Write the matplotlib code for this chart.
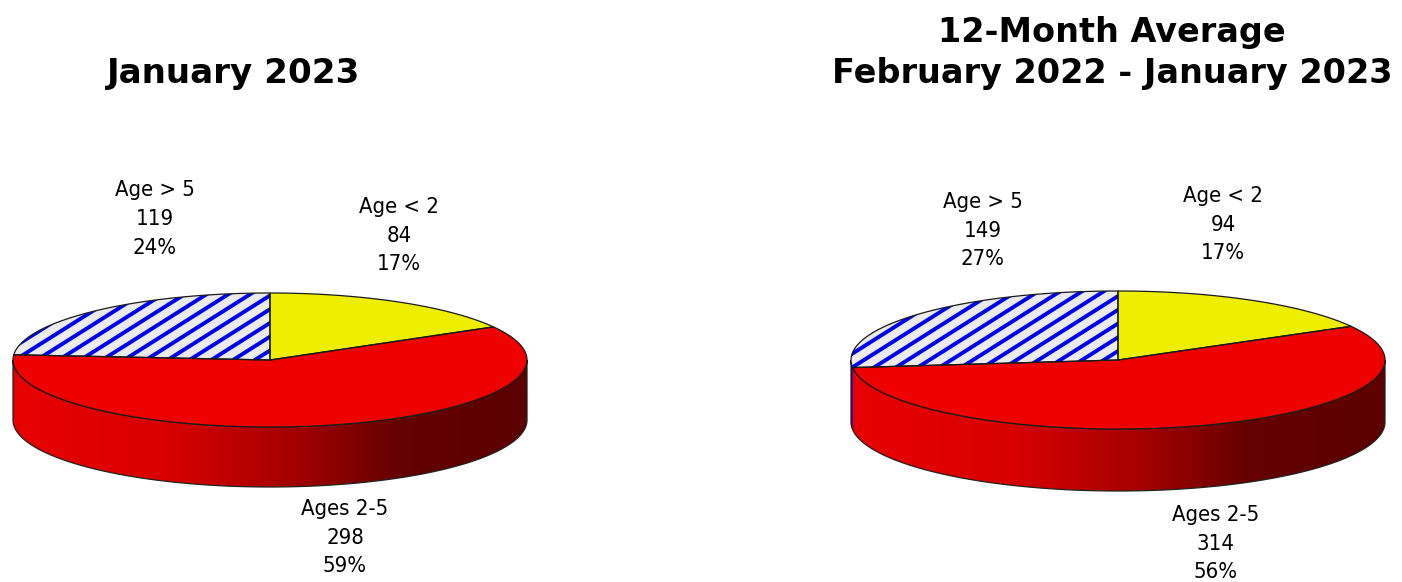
import numpy as np
import matplotlib
matplotlib.use("Agg")
import matplotlib.pyplot as plt
from matplotlib.patches import Polygon
from matplotlib.colors import LinearSegmentedColormap

categories = ["Age < 2", "Ages 2-5", "Age > 5"]
jan_values = [84, 298, 119]
jan_percents = ["17%", "59%", "24%"]
avg_values = [94, 314, 149]
avg_percents = ["17%", "56%", "27%"]
title_left = ["January 2023"]
title_right = ["12-Month Average", "February 2022 - January 2023"]

YELLOW, RED, STRIPE, STRIPE_BG = "#eeee00", "#ee0000", "#0000ee", "#ebebeb"
cmap = LinearSegmentedColormap.from_list(
    "side", [(0, "#e80000"), (0.3, "#d80000"), (0.56, "#a00000"), (0.75, "#640000"), (1, "#5c0000")])

fig = plt.figure(figsize=(14.02, 5.82), dpi=100)
ax = fig.add_axes([0, 0, 1, 1])
ax.set_xlim(0, 1402)
ax.set_ylim(582, 0)
ax.axis("off")


def rim(cx, cy, rx, ry, a0, a1, n=300):
    """Points on the ellipse; angles measured clockwise from north, degrees."""
    t = np.radians(np.linspace(a0, a1, n))
    return np.column_stack([cx + rx * np.sin(t), cy - ry * np.cos(t)])


def pie3d(values, cx, cy, rx, ry, depth, phase):
    total = sum(values)
    edges = np.concatenate([[0], np.cumsum(values) / total * 360])
    front = rim(cx, cy, rx, ry, 90, 270)
    wall = np.vstack([front, front[::-1] + [0, depth]])
    wall_patch = Polygon(wall, closed=True, fc="none", ec="none", zorder=1)
    ax.add_patch(wall_patch)
    img = ax.imshow(np.linspace(0, 1, 512)[None, :], cmap=cmap, vmin=0, vmax=1,
                    extent=[cx - rx, cx + rx, cy + ry + depth, cy - ry],
                    aspect="auto", zorder=1, interpolation="bilinear")
    img.set_clip_path(wall_patch)
    if edges[2] < 270:
        arc = rim(cx, cy, rx, ry, edges[2], 270, 30)
        ax.add_patch(Polygon(np.vstack([arc, arc[::-1] + [0, depth]]), closed=True,
                             fc=STRIPE, ec="none", zorder=1.5))
    ax.add_patch(Polygon(wall, closed=True, fc="none", ec="#222222", lw=0.9, zorder=2))
    centre = np.array([[cx, cy]])
    for i, fc in enumerate([YELLOW, RED, STRIPE_BG]):
        pts = np.vstack([centre, rim(cx, cy, rx, ry, edges[i], edges[i + 1])])
        p = Polygon(pts, closed=True, fc=fc, ec="none", zorder=3)
        ax.add_patch(p)
        if i == 2:
            slope = 0.63
            for k in range(-2, 30):
                x0 = cx - rx + phase + k * 21.8   # stripe crossing height cy
                ln, = ax.plot([x0 - 100, x0 + 300], [cy + 100 * slope, cy - 300 * slope],
                              color=STRIPE, lw=2.8, zorder=3.2, solid_capstyle="butt")
                ln.set_clip_path(p)
        ax.add_patch(Polygon(pts, closed=True, fc="none", ec="#1a1a1a", lw=0.9, zorder=4))


def label(i, values, percents, x, y):
    for k, s in enumerate([categories[i], str(values[i]), percents[i]]):
        ax.text(x, y + k * 28.6, s, ha="center", va="baseline", fontsize=15.8,
                family="DejaVu Sans", stretch="condensed", color="black")


pie3d(jan_values, 270, 360, 257, 67, 60, 2)
pie3d(avg_values, 1118, 360, 267, 69, 62, 13)

label(0, jan_values, jan_percents, 399, 213)
label(2, jan_values, jan_percents, 155, 196.5)
label(1, jan_values, jan_percents, 345, 515)
label(0, avg_values, avg_percents, 1223, 202)
label(2, avg_values, avg_percents, 983, 208)
label(1, avg_values, avg_percents, 1216, 521)

ax.text(234, 83, title_left[0], ha="center", va="baseline", fontsize=24.6,
        fontweight="bold", family="DejaVu Sans")
for s, y in zip(title_right, [42, 83]):
    ax.text(1112, y, s, ha="center", va="baseline", fontsize=24.1,
            fontweight="bold", family="DejaVu Sans")

fig.savefig("out.png", dpi=100)
